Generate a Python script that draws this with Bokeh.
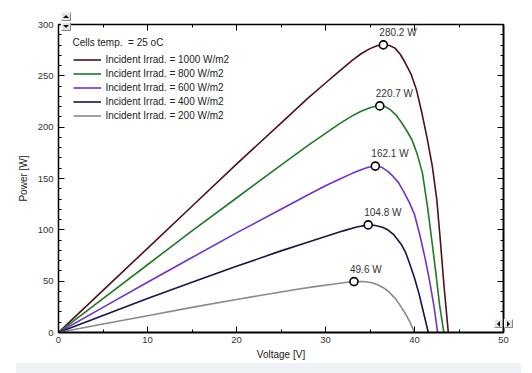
from bokeh.plotting import figure
from bokeh.models import (LinearAxis, SingleIntervalTicker, Legend, LegendItem,
                          CustomJSTickFormatter, Div)
from bokeh.layouts import column
from bokeh.core.properties import value
from bokeh.embed import file_html
from bokeh.resources import INLINE

FONT = "Liberation Sans"

# ---- data (Voltage [V], Power [W]) ----
v_1000 = [0, 5, 10, 15, 20, 25, 28, 30, 31.5, 33, 34, 35, 35.8, 36.5, 37.2, 37.8, 38.4, 39.0,
          39.6, 40.2, 40.8, 41.4, 42.0, 42.5, 42.9, 43.3, 43.8]
p_1000 = [0, 41, 82, 123, 164, 204, 228, 243, 254, 265, 271.5, 276.5, 279.3, 280.2, 279.6, 277,
          271, 262, 252, 237, 215, 190, 162, 130, 90, 47, 0]

v_800 = [0, 5, 10, 15, 20, 25, 28, 30, 31.5, 33, 34, 35, 35.6, 36.1, 36.7, 37.3, 37.9, 38.5,
         39.1, 39.7, 40.3, 40.9, 41.5, 42.0, 42.4, 42.8, 43.3]
p_800 = [0, 33, 66, 99, 131, 163, 182, 194, 203, 211, 215.5, 219, 220.3, 220.7, 220, 217, 212,
         205, 197, 188, 174, 155, 120, 86, 58, 28, 0]

v_600 = [0, 5, 10, 15, 20, 25, 28, 30, 31.5, 33, 34, 34.8, 35.6, 36.3, 37.0, 37.6, 38.2, 38.8,
         39.4, 40.0, 40.6, 41.2, 41.7, 42.2, 42.6]
p_600 = [0, 24.5, 49, 73, 97, 120, 134, 143, 149, 155, 158.5, 161, 162.1, 161, 157, 152, 146,
         137, 127, 115, 95, 72, 50, 25, 0]

v_400 = [0, 5, 10, 15, 20, 25, 28, 30, 32, 33.5, 34.8, 35.6, 36.4, 37.0, 37.7, 38.5, 39.0,
         39.5, 40.0, 40.5, 41.0, 41.55]
p_400 = [0, 16.5, 33, 49, 64.5, 79.5, 88, 93.5, 99, 102.8, 104.8, 104.2, 102.5, 100, 95, 86,
         78, 66, 53, 38, 20, 0]

v_200 = [0, 5, 10, 15, 20, 25, 27, 29, 31, 32.2, 33.2, 34.2, 35.1, 35.8, 36.5, 37.2, 37.9,
         38.5, 39.0, 39.5, 40.0]
p_200 = [0, 8.2, 16.4, 24.5, 32.2, 39.5, 42.3, 44.9, 47.3, 48.7, 49.6, 49.6, 48.7, 46.8, 43.6,
         39, 32.5, 25, 18, 10, 0]

series_v = [v_1000, v_800, v_600, v_400, v_200]
series_p = [p_1000, p_800, p_600, p_400, p_200]
series_labels = ["Incident Irrad. = 1000 W/m2", "Incident Irrad. = 800 W/m2",
                 "Incident Irrad. = 600 W/m2", "Incident Irrad. = 400 W/m2",
                 "Incident Irrad. = 200 W/m2"]
series_colors = ["#4e1219", "#1f7a23", "#7431c9", "#15164a", "#8a8a8a"]

mpp_v = [36.5, 36.1, 35.6, 34.8, 33.2]
mpp_p = [280.2, 220.7, 162.1, 104.8, 49.6]
mpp_text = ["280.2 W", "220.7 W", "162.1 W", "104.8 W", "49.6 W"]

legend_title = "Cells temp.  = 25 oC"
x_label = "Voltage [V]"
y_label = "Power [W]"

# ---- figure ----
p = figure(frame_width=445, frame_height=308, x_range=(0, 50), y_range=(0, 300),
           output_backend="svg", toolbar_location=None,
           min_border_left=58, min_border_right=22, min_border_top=24, min_border_bottom=31,
           x_axis_label=x_label, y_axis_label=y_label)
p.xgrid.visible = False
p.ygrid.visible = False
p.outline_line_color = None
p.background_fill_color = "white"
p.border_fill_color = "white"

p.xaxis.ticker = SingleIntervalTicker(interval=10, num_minor_ticks=2)
p.yaxis.ticker = SingleIntervalTicker(interval=50, num_minor_ticks=5)

top = LinearAxis(ticker=SingleIntervalTicker(interval=10, num_minor_ticks=2),
                 formatter=CustomJSTickFormatter(code="return ''"))
right = LinearAxis(ticker=SingleIntervalTicker(interval=50, num_minor_ticks=5),
                   formatter=CustomJSTickFormatter(code="return ''"))
p.add_layout(top, "above")
p.add_layout(right, "right")


def style(ax, lw):
    ax.major_tick_in = 6
    ax.major_tick_out = 0
    ax.minor_tick_in = 3
    ax.minor_tick_out = 0
    ax.axis_line_width = lw
    ax.axis_line_color = "black"
    ax.major_tick_line_color = "black"
    ax.minor_tick_line_color = "black"
    ax.major_tick_line_width = 1
    ax.minor_tick_line_width = 1
    ax.major_label_text_font = FONT
    ax.major_label_text_font_size = "9.5px"
    ax.major_label_text_color = "#333333"
    ax.axis_label_text_font = FONT
    ax.axis_label_text_font_size = "10px"
    ax.axis_label_text_font_style = "normal"
    ax.axis_label_text_color = "#222222"


for ax in p.xaxis:
    style(ax, 2)
for ax in p.yaxis:
    style(ax, 1.5)
p.below[0].major_label_standoff = 4
p.below[0].axis_label_standoff = 3
p.left[0].major_label_standoff = 5
p.left[0].axis_label_standoff = 6
top.major_label_standoff = 0
right.major_label_standoff = 0
top.axis_line_width = 1.5
right.axis_line_width = 2

items = []
for v, pw, lab, col in zip(series_v, series_p, series_labels, series_colors):
    r = p.line(v, pw, line_color=col, line_width=1.6, line_join="round")
    items.append(LegendItem(label=lab, renderers=[r]))

p.scatter(mpp_v, mpp_p, size=8, fill_color="white", line_color="black", line_width=1.6)
p.text(mpp_v, mpp_p, text=mpp_text, x_offset=-4, y_offset=-7,
       text_baseline="bottom", text_align="left", text_font=value(FONT),
       text_font_size="10px", text_color="#333333")

legend = Legend(items=items, location=(14.5, 210.5), title=legend_title)
legend.border_line_color = None
legend.background_fill_alpha = 0
legend.label_text_font = FONT
legend.label_text_font_size = "10px"
legend.label_text_color = "#222222"
legend.title_text_font = FONT
legend.title_text_font_size = "10px"
legend.title_text_font_style = "normal"
legend.title_text_color = "#222222"
legend.glyph_width = 28
legend.glyph_height = 13
legend.label_height = 13
legend.spacing = 1
legend.label_standoff = 5
legend.margin = 0
legend.padding = 1
legend.title_standoff = 5
p.add_layout(legend)

band = Div(width=505, height=10, margin=(0, 0, 0, 16),
           styles={"background-color": "#eef1f5"})


# small scroll buttons of the original window, drawn as a page overlay
def button(left, top, w, h, tri):
    box = ("position:absolute;left:%dpx;top:%dpx;width:%dpx;height:%dpx;box-sizing:border-box;"
           "background:#e4e4e4;border:1px solid;border-color:#f8f8f8 #8a8a8a #8a8a8a #f8f8f8;"
           "display:flex;align-items:center;justify-content:center;" % (left, top, w, h))
    return "<div style='%s'><div style='width:0;height:0;%s'></div></div>" % (box, tri)


up = "border-left:3px solid transparent;border-right:3px solid transparent;border-bottom:3px solid #111;"
down = "border-left:3px solid transparent;border-right:3px solid transparent;border-top:3px solid #111;"
lt = "border-top:3px solid transparent;border-bottom:3px solid transparent;border-right:3px solid #111;"
rt = "border-top:3px solid transparent;border-bottom:3px solid transparent;border-left:3px solid #111;"
OFF = 386
html = ("<div style='position:relative;width:0;height:0;overflow:visible'>"
        + button(61, 13 - OFF, 10, 9, up)
        + button(61, 23 - OFF, 10, 9, down)
        + button(494, 320 - OFF, 9, 9, lt)
        + button(504, 320 - OFF, 9, 9, rt)
        + "</div>")
overlay = Div(text=html, width=532, height=0, margin=(0, 0, 0, 0),
              styles={"overflow": "visible"})

layout = column(p, band, overlay, spacing=0)

open("out.html", "w").write(file_html(layout, INLINE))
